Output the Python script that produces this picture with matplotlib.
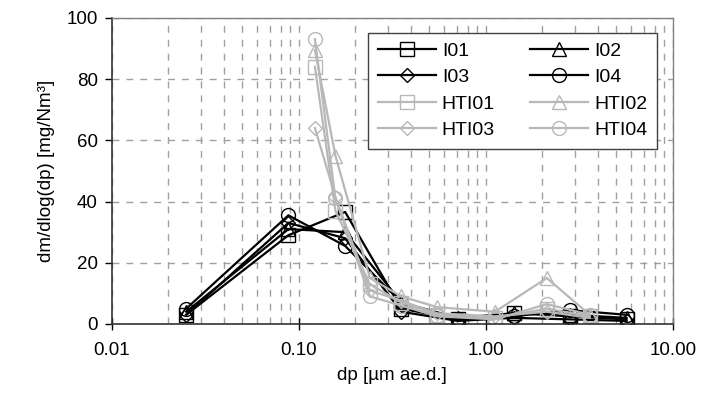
import numpy as np
import matplotlib
matplotlib.use("Agg")
import matplotlib.pyplot as plt
from matplotlib.ticker import FixedLocator, LogLocator, NullFormatter

plt.rcParams['font.family'] = ['Liberation Sans', 'DejaVu Sans']

# particle size (geometric mean of stage) [um]
dp_i = [0.025, 0.088, 0.177, 0.354, 0.707, 1.41, 2.83, 5.66]
dp_ht = [0.122, 0.157, 0.24, 0.354, 0.55, 1.12, 2.12, 3.6]

i01 = [3, 29, 36.6, 5, 1.5, 3.5, 2.5, 1.5]
i02 = [4, 31, 30, 7, 2, 3.5, 3, 2]
i03 = [3, 33, 28, 4, 1, 2, 1.5, 1]
i04 = [5, 35.5, 25.5, 7, 1.5, 2.5, 4.5, 3]

hti01 = [84, 37, 13, 7, 3, 2, 5, 2.5]
hti02 = [89.5, 55, 15, 9, 5.5, 4, 15, 3]
hti03 = [64, 41.5, 11, 7.5, 3.5, 2.5, 4, 2]
hti04 = [93, 41, 9, 6, 2.5, 1.5, 6.5, 3]

def main():
    fig = plt.figure(figsize=(7.03, 3.98), dpi=100)
    ax = fig.add_axes([0.159, 0.186, 0.798, 0.769])

    black = 'black'
    grey = '#b8b8b8'
    kw = dict(markerfacecolor='none', markersize=10, markeredgewidth=1.0, linewidth=1.6)

    h = {}
    h['I01'], = ax.plot(dp_i, i01, marker='s', color=black, label='I01', **kw)
    h['I02'], = ax.plot(dp_i, i02, marker='^', color=black, label='I02', **kw)
    h['I03'], = ax.plot(dp_i, i03, marker='D', color=black, label='I03', **dict(kw, markersize=7.5))
    h['I04'], = ax.plot(dp_i, i04, marker='o', color=black, label='I04', **kw)
    h['HTI01'], = ax.plot(dp_ht, hti01, marker='s', color=grey, label='HTI01', **kw)
    h['HTI02'], = ax.plot(dp_ht, hti02, marker='^', color=grey, label='HTI02', **kw)
    h['HTI03'], = ax.plot(dp_ht, hti03, marker='D', color=grey, label='HTI03', **dict(kw, markersize=7.5))
    h['HTI04'], = ax.plot(dp_ht, hti04, marker='o', color=grey, label='HTI04', **kw)

    ax.set_xscale('log')
    ax.set_xlim(0.01, 10)
    ax.set_ylim(0, 100)

    ax.xaxis.set_major_locator(FixedLocator([0.01, 0.1, 1, 10]))
    ax.set_xticklabels(['0.01', '0.10', '1.00', '10.00'])
    ax.xaxis.set_minor_locator(LogLocator(base=10, subs=np.arange(2, 10)))
    ax.xaxis.set_minor_formatter(NullFormatter())
    ax.set_yticks([0, 20, 40, 60, 80, 100])

    ax.grid(True, which='both', axis='x', color='#a0a0a0', linestyle=(0, (5, 5)), linewidth=1.0)
    ax.grid(True, which='major', axis='y', color='#a0a0a0', linestyle=(0, (5, 5)), linewidth=1.0)
    ax.set_axisbelow(True)

    ax.tick_params(axis='x', which='major', direction='inout', length=8, width=1, labelsize=13.5, pad=9)
    ax.tick_params(axis='x', which='minor', length=0)
    ax.tick_params(axis='y', direction='out', length=5, width=1, labelsize=13.5, pad=5)

    for s in ['left', 'bottom']:
        ax.spines[s].set_color('#333333')
        ax.spines[s].set_linewidth(1.2)
    for s in ['top', 'right']:
        ax.spines[s].set_color('#808080')
        ax.spines[s].set_linewidth(1.0)

    ax.set_xlabel('dp [µm ae.d.]', fontsize=13.5, labelpad=6)
    ax.set_ylabel('dm/dlog(dp) [mg/Nm³]', fontsize=13.5, labelpad=8)

    order = ['I01', 'I03', 'HTI01', 'HTI03', 'I02', 'I04', 'HTI02', 'HTI04']
    leg = ax.legend([h[k] for k in order], order, ncol=2, loc='upper right',
                    bbox_to_anchor=(0.972, 0.952), fontsize=14, frameon=True,
                    fancybox=False, edgecolor='#404040', framealpha=1,
                    handlelength=3.0, columnspacing=1.8, labelspacing=0.45,
                    borderpad=0.5, handletextpad=0.3, borderaxespad=0)
    leg.get_frame().set_linewidth(1.0)

    fig.savefig('out.png', dpi=100)

if __name__ == "__main__":
    main()
